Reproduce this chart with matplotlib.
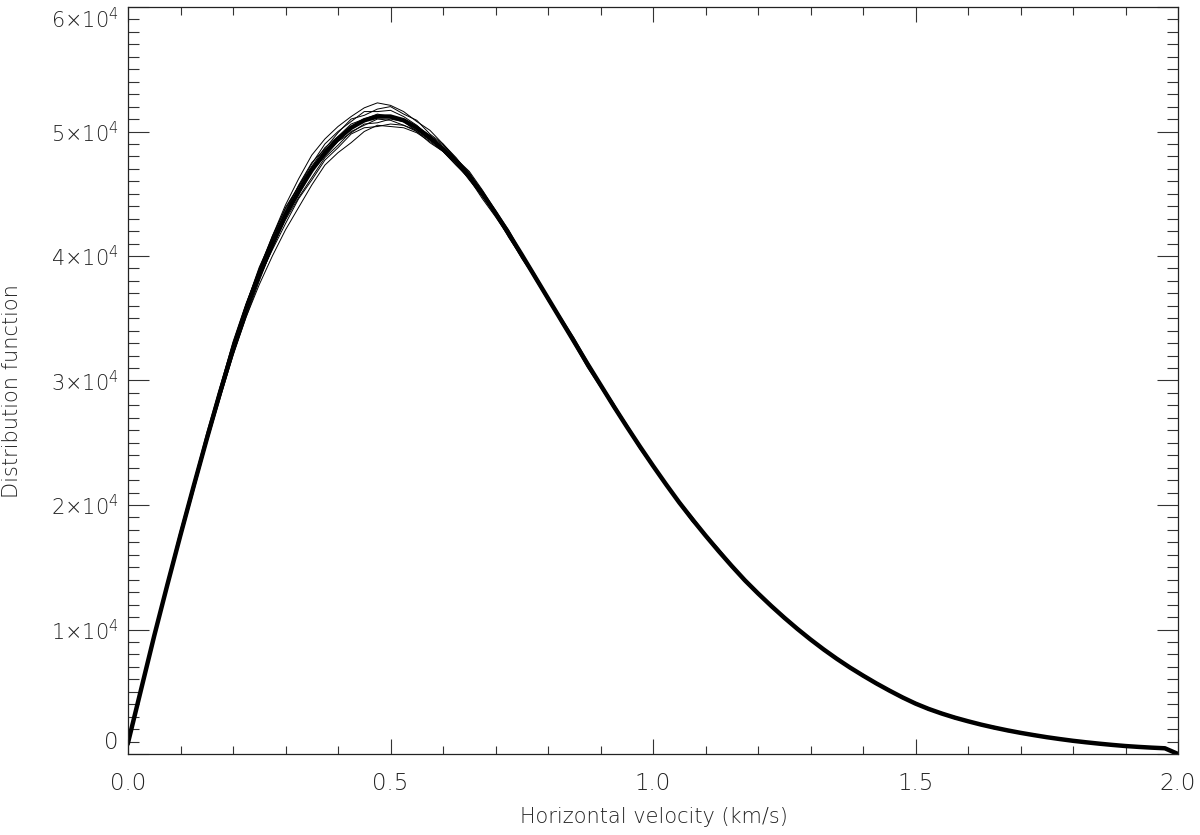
import numpy as np
import matplotlib
matplotlib.use("Agg")
import matplotlib.pyplot as plt
from matplotlib.ticker import MultipleLocator
import matplotlib.transforms as mtransforms

plt.rcParams['font.family'] = ['DejaVu Sans']
plt.rcParams['font.weight'] = 'light'
plt.rcParams['mathtext.fontset'] = 'dejavusans'
plt.rcParams['mathtext.default'] = 'regular'

# Horizontal velocity bins (km/s), step 0.025
velocity = np.arange(81) * 0.025

# Mean distribution
base_curve = [
    900, 5200, 9500, 13600, 17600, 21500, 25300, 29000,
    32500, 35700, 38500, 41000, 43300, 45200, 46900, 48300,
    49400, 50300, 50900, 51200, 51200, 50900, 50300, 49500,
    48600, 47600, 46400, 45000, 43450, 41800, 40100, 38350,
    36600, 34850, 33100, 31350, 29650, 27950, 26300, 24700,
    23150, 21650, 20200, 18850, 17550, 16300, 15100, 13950,
    12900, 11900, 10950, 10050, 9200, 8400, 7650, 6950,
    6300, 5680, 5100, 4550, 4050, 3620, 3250, 2920,
    2630, 2360, 2120, 1900, 1700, 1520, 1350, 1200,
    1060, 940, 830, 730, 640, 570, 510, 460, 0,
]

# Deviations of the individual curves from the mean (units of 100)
dev_a = [0, 1, 1, 2, 1, 2, 3, 2, 3, 4, 5, 6, 8, 10, 12, 11,
         10, 9, 10, 11, 9, 7, 5, 6, 4, 3, 2, 2, 1, 2, 1, 0,
         1, 0, -1, 1, 0, 1, 2, 1, 0, 1, 0, -1, 1, 2, 1, 0,
         1, 0, 1, 1, 0, 1, 0, 0, 1, 0, 0, 1, 0, 0, 0, 1,
         0, 0, 1, 0, 0, 0, 0, 0, 0, 0, 0, 0, 0, 0, 0, 0, 0]
dev_b = [0, -1, -1, -2, -2, -3, -3, -4, -5, -6, -8, -10, -12, -13, -12, -10,
         -11, -12, -9, -7, -8, -6, -4, -3, -2, -3, -1, -2, 0, -1, -2, -1,
         0, -1, 0, -2, -1, 0, -1, 0, -1, 0, 1, 0, -1, 0, 0, -1,
         0, 0, -1, 0, 1, 0, 0, 0, 0, -1, 0, 0, 0, 1, 0, 0,
         0, 0, 0, -1, 0, 0, 0, 0, 0, 0, 0, 0, 0, 0, 0, 0, 0]
dev_c = [0, 1, 2, 3, 4, 3, 5, 4, 6, 5, 4, 6, 5, 4, 3, 4,
         2, 3, 1, 2, 0, -1, 1, 2, 3, 2, 4, 3, 2, 3, 1, 2,
         1, 2, 3, 2, 1, 2, 1, 0, 1, 0, 1, 2, 1, 0, 1, 1,
         0, 1, 0, 1, 0, 0, 1, 0, 0, 1, 0, 0, 0, 0, 1, 0,
         0, 0, 0, 0, 0, 1, 0, 0, 0, 0, 0, 0, 0, 0, 0, 0, 0]
dev_d = [0, -1, -2, -2, -3, -4, -3, -5, -4, -6, -5, -3, -4, -5, -6, -4,
         -5, -3, -4, -2, -3, -4, -2, -1, -2, -3, -2, -4, -3, -2, -3, -1,
         -2, -1, -2, -3, -2, -1, -1, -2, -1, 0, -1, -2, 0, -1, 0, -1,
         -1, 0, 0, -1, 0, -1, 0, 0, -1, 0, 0, -1, 0, 0, 0, 0,
         0, 0, -1, 0, 0, 0, 0, 0, 0, 0, 0, 0, 0, 0, 0, 0, 0]
dev_e = [0, 1, 0, -1, 1, 2, 1, -1, 2, 3, 2, 5, 6, 4, 5, 7,
         6, 5, 7, 4, 5, 3, 2, 0, -1, 1, -1, 0, -2, -1, 0, -2,
         -1, 1, 0, -1, 1, 0, -1, 1, 0, -1, 1, 0, 0, 1, -1, 0,
         0, 1, 0, 0, -1, 0, 0, 1, 0, 0, 0, 0, 1, 0, 0, 0,
         0, 0, 0, 0, 0, 0, 0, 0, 0, 0, 0, 0, 0, 0, 0, 0, 0]
dev_f = [0, 0, 1, -1, 0, -2, -1, -3, -2, -1, -3, -4, -2, -3, -1, -3,
         -2, -4, -3, -5, -2, -1, -3, -2, 0, -1, 1, -1, 0, 1, -1, 0,
         1, -1, 0, 1, -1, 0, 1, 0, -1, 1, 0, -1, 1, 0, -1, 0,
         1, 0, -1, 0, 1, 0, 0, -1, 0, 0, 1, 0, 0, -1, 0, 0,
         0, 0, 0, 0, 0, 0, 0, 0, 0, 0, 0, 0, 0, 0, 0, 0, 0]
dev_g = [0, 1, 1, 2, 1, 3, 2, 4, 5, 4, 6, 4, 3, 5, 6, 3,
         5, 7, 4, 6, 8, 5, 6, 3, 4, 2, 3, 1, 2, 0, 1, -1,
         0, 1, -1, 0, 1, 2, 0, 1, 1, 0, 1, 0, 1, 0, 1, 0,
         0, 0, 1, 0, 0, 0, 1, 0, 0, 0, 0, 1, 0, 0, 0, 0,
         0, 0, 0, 0, 0, 0, 0, 0, 0, 0, 0, 0, 0, 0, 0, 0, 0]
dev_h = [0, -1, 0, -1, -2, -1, -3, -2, -3, -4, -2, -5, -7, -6, -8, -6,
         -7, -5, -6, -8, -6, -4, -3, -4, -2, -1, -3, -2, -1, -3, -2, -1,
         0, -2, -1, 0, -1, -2, 0, -1, 0, -1, 0, 0, -1, 0, -1, 0,
         0, -1, 0, 0, 0, -1, 0, 0, 0, 0, -1, 0, 0, 0, 0, -1,
         0, 0, 0, 0, 0, 0, 0, 0, 0, 0, 0, 0, 0, 0, 0, 0, 0]
deviations = [dev_a, dev_b, dev_c, dev_d, dev_e, dev_f, dev_g, dev_h]

x_ticks = [0.0, 0.5, 1.0, 1.5, 2.0]
x_labels = ["0.0", "0.5", "1.0", "1.5", "2.0"]
y_ticks = [0, 10000, 20000, 30000, 40000, 50000, 60000]
y_labels = ["", r"$1{\times}10^{4}$", r"$2{\times}10^{4}$", r"$3{\times}10^{4}$",
            r"$4{\times}10^{4}$", r"$5{\times}10^{4}$", r"$6{\times}10^{4}$"]

fig = plt.figure(figsize=(12, 8.35), dpi=100)
ax = fig.add_axes([128 / 1200, 81 / 835, 1050 / 1200, 747 / 835])

base = np.array(base_curve, dtype=float)
ax.plot(velocity, base, color="black", lw=3.2, solid_joinstyle="round")
for dev in deviations:
    ax.plot(velocity, base + 100 * np.array(dev), color="black", lw=0.7)

ax.set_xlim(0, 2)
ax.set_ylim(0, 60000)

text_color = "#222222"
ax.set_xticks(x_ticks)
ax.set_xticklabels(x_labels, fontsize=16.5, color=text_color)
ax.set_yticks(y_ticks)
ax.set_yticklabels(y_labels, fontsize=15, color=text_color)
ax.get_yticklabels()[-1].set_va("top")
ax.xaxis.set_minor_locator(MultipleLocator(0.1))
ax.yaxis.set_minor_locator(MultipleLocator(1000))

ax.tick_params(which="both", direction="in", top=True, right=True,
               color="#333333", width=0.8)
ax.xaxis.set_tick_params(which="major", length=11, pad=13)
ax.xaxis.set_tick_params(which="minor", length=5.8)
ax.yaxis.set_tick_params(which="major", length=15, pad=7)
ax.yaxis.set_tick_params(which="minor", length=8)

for side in ax.spines.values():
    side.set_linewidth(0.9)
    side.set_color("#222222")

# IDL puts the zero label a little above the axis corner
trans = mtransforms.blended_transform_factory(ax.transAxes, ax.transData)
ax.text(-0.0095, 900, "0", transform=trans, ha="right", va="center",
        fontsize=16.5, color=text_color)

fig.text(654 / 1200, 1 - 817 / 835, "Horizontal velocity (km/s)",
         ha="center", va="center", fontsize=15, color=text_color)
fig.text(12 / 1200, 1 - 391 / 835, "Distribution function", rotation=90,
         ha="center", va="center", fontsize=15, color=text_color)

fig.savefig("out.png", dpi=100)
